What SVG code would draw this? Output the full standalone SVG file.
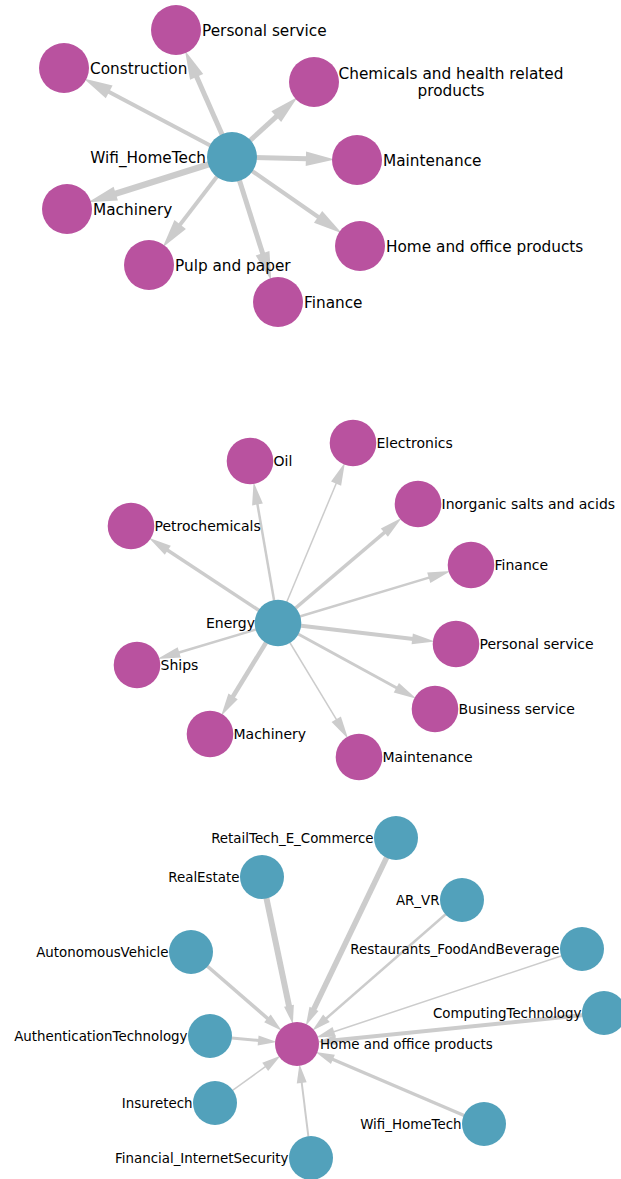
<svg xmlns="http://www.w3.org/2000/svg" width="621" height="1179" viewBox="0 0 621 1179">
<style>
.e{stroke:#cccccc;fill:none;stroke-linecap:butt}
.t1{marker-end:url(#h1)}
.t2{marker-end:url(#h2)}
.t3{marker-end:url(#h3)}
.m{fill:#b9529f}
.c{fill:#52a1bb}
text{font-family:"DejaVu Sans","Liberation Sans",sans-serif;fill:#000}
.f1{font-size:15.3px}
.f2{font-size:14px}
.f3{font-size:13.4px}
.r{text-anchor:end}
</style>
<defs>
<marker id="h1" markerUnits="userSpaceOnUse" markerWidth="30" markerHeight="20" viewBox="-1 -7 27 14" refX="0" refY="0" orient="auto" overflow="visible"><path d="M-1,-6.5 L25,0 L-1,6.5 z" fill="#cccccc"/></marker>
<marker id="h2" markerUnits="userSpaceOnUse" markerWidth="24" markerHeight="14" viewBox="-1 -5 22 10" refX="0" refY="0" orient="auto" overflow="visible"><path d="M-1,-5 L20,0 L-1,5 z" fill="#cccccc"/></marker>
<marker id="h3" markerUnits="userSpaceOnUse" markerWidth="20" markerHeight="12" viewBox="-1 -5 18 10" refX="0" refY="0" orient="auto" overflow="visible"><path d="M-1,-4.5 L16,0 L-1,4.5 z" fill="#cccccc"/></marker>
</defs>

<g id="connectors">
<!-- top -->
<line class="e t1" x1="232" y1="157" x2="196.2" y2="75.8" stroke-width="5"/>
<line class="e t1" x1="232" y1="157" x2="108.2" y2="91.4" stroke-width="4"/>
<line class="e t1" x1="232" y1="157" x2="114.7" y2="194.0" stroke-width="6.5"/>
<line class="e t1" x1="232" y1="157" x2="179.5" y2="225.4" stroke-width="4"/>
<line class="e t1" x1="232" y1="157" x2="262.9" y2="254.3" stroke-width="5"/>
<line class="e t1" x1="232" y1="157" x2="277.1" y2="115.8" stroke-width="5"/>
<line class="e t1" x1="232" y1="157" x2="307.0" y2="158.8" stroke-width="5"/>
<line class="e t1" x1="232" y1="157" x2="319.0" y2="217.5" stroke-width="4"/>
<!-- middle -->
<line class="e t2" x1="278" y1="623" x2="257.3" y2="503.4" stroke-width="2.5"/>
<line class="e t2" x1="278" y1="623" x2="166.9" y2="549.7" stroke-width="3.5"/>
<line class="e t2" x1="278" y1="623" x2="178.2" y2="652.7" stroke-width="2.5"/>
<line class="e t2" x1="278" y1="623" x2="232.5" y2="697.3" stroke-width="4.5"/>
<line class="e t2" x1="278" y1="623" x2="336.5" y2="482.7" stroke-width="1.5"/>
<line class="e t2" x1="278" y1="623" x2="385.2" y2="531.9" stroke-width="3.5"/>
<line class="e t2" x1="278" y1="623" x2="429.8" y2="577.4" stroke-width="2.5"/>
<line class="e t2" x1="278" y1="623" x2="413.3" y2="639.0" stroke-width="4"/>
<line class="e t2" x1="278" y1="623" x2="397.3" y2="688.3" stroke-width="3"/>
<line class="e t2" x1="278" y1="623" x2="336.8" y2="720.2" stroke-width="1.5"/>
<!-- bottom -->
<line class="e t3" x1="262" y1="877" x2="289.2" y2="1006.8" stroke-width="6"/>
<line class="e t3" x1="396" y1="838" x2="313.5" y2="1009.8" stroke-width="5.5"/>
<line class="e t3" x1="191" y1="952" x2="268.3" y2="1019.1" stroke-width="3.5"/>
<line class="e t3" x1="210" y1="1036" x2="259.2" y2="1040.5" stroke-width="3"/>
<line class="e t3" x1="215" y1="1103" x2="266.1" y2="1066.2" stroke-width="1.5"/>
<line class="e t3" x1="311" y1="1158" x2="301.6" y2="1081.7" stroke-width="2"/>
<line class="e t3" x1="462" y1="900" x2="325.6" y2="1019.0" stroke-width="2.5"/>
<line class="e t3" x1="582" y1="949" x2="333.1" y2="1032.0" stroke-width="1.5"/>
<line class="e t3" x1="604" y1="1013" x2="334.8" y2="1040.2" stroke-width="4"/>
<line class="e t3" x1="484" y1="1124" x2="331.9" y2="1059.0" stroke-width="3.5"/>
</g>

<!-- top graph nodes -->
<g id="n-wifi-top"><circle class="c" cx="232" cy="157" r="25"/><text class="f1 r" x="206" y="162.5">Wifi_HomeTech</text></g>
<g id="n-personal-top"><circle class="m" cx="176" cy="30" r="25"/><text class="f1" x="202" y="35.5">Personal service</text></g>
<g id="n-construction"><circle class="m" cx="64" cy="68" r="25"/><text class="f1" x="90" y="73.5">Construction</text></g>
<g id="n-machinery-top"><circle class="m" cx="67" cy="209" r="25"/><text class="f1" x="93" y="214.5">Machinery</text></g>
<g id="n-pulp"><circle class="m" cx="149" cy="265" r="25"/><text class="f1" x="175" y="270.5">Pulp and paper</text></g>
<g id="n-finance-top"><circle class="m" cx="278" cy="302" r="25"/><text class="f1" x="304" y="307.5">Finance</text></g>
<g id="n-chemicals"><circle class="m" cx="314" cy="82" r="25"/><text class="f1" text-anchor="middle" x="451" y="78.8">Chemicals and health related</text><text class="f1" text-anchor="middle" x="451" y="96.3">products</text></g>
<g id="n-maintenance-top"><circle class="m" cx="357" cy="160" r="25"/><text class="f1" x="383" y="165.5">Maintenance</text></g>
<g id="n-home-top"><circle class="m" cx="360" cy="246" r="25"/><text class="f1" x="386" y="251.5">Home and office products</text></g>

<!-- middle graph nodes -->
<g id="n-energy"><circle class="c" cx="278" cy="623" r="23.3"/><text class="f2 r" x="255" y="628.1">Energy</text></g>
<g id="n-oil"><circle class="m" cx="250" cy="461" r="23.3"/><text class="f2" x="273.5" y="466.1">Oil</text></g>
<g id="n-petro"><circle class="m" cx="131" cy="526" r="23.3"/><text class="f2" x="154.5" y="531.1">Petrochemicals</text></g>
<g id="n-ships"><circle class="m" cx="137" cy="665" r="23.3"/><text class="f2" x="160.5" y="670.1">Ships</text></g>
<g id="n-machinery-mid"><circle class="m" cx="210" cy="734" r="23.3"/><text class="f2" x="233.5" y="739.1">Machinery</text></g>
<g id="n-electronics"><circle class="m" cx="353" cy="443" r="23.3"/><text class="f2" x="376.5" y="448.1">Electronics</text></g>
<g id="n-inorganic"><circle class="m" cx="418" cy="504" r="23.3"/><text class="f2" x="441.5" y="509.1">Inorganic salts and acids</text></g>
<g id="n-finance-mid"><circle class="m" cx="471" cy="565" r="23.3"/><text class="f2" x="494.5" y="570.1">Finance</text></g>
<g id="n-personal-mid"><circle class="m" cx="456" cy="644" r="23.3"/><text class="f2" x="479.5" y="649.1">Personal service</text></g>
<g id="n-business"><circle class="m" cx="435" cy="709" r="23.3"/><text class="f2" x="458.5" y="714.1">Business service</text></g>
<g id="n-maintenance-mid"><circle class="m" cx="359" cy="757" r="23.3"/><text class="f2" x="382.5" y="762.1">Maintenance</text></g>

<!-- bottom graph nodes -->
<g id="n-home-bottom"><circle class="m" cx="297" cy="1044" r="22"/><text class="f3" x="320" y="1048.8">Home and office products</text></g>
<g id="n-realestate"><circle class="c" cx="262" cy="877" r="22"/><text class="f3 r" x="239.5" y="881.8">RealEstate</text></g>
<g id="n-retailtech"><circle class="c" cx="396" cy="838" r="22"/><text class="f3 r" x="373.5" y="842.8">RetailTech_E_Commerce</text></g>
<g id="n-autonomous"><circle class="c" cx="191" cy="952" r="22"/><text class="f3 r" x="168.5" y="956.8">AutonomousVehicle</text></g>
<g id="n-authentication"><circle class="c" cx="210" cy="1036" r="22"/><text class="f3 r" x="187.5" y="1040.8">AuthenticationTechnology</text></g>
<g id="n-insuretech"><circle class="c" cx="215" cy="1103" r="22"/><text class="f3 r" x="192.5" y="1107.8">Insuretech</text></g>
<g id="n-financial"><circle class="c" cx="311" cy="1158" r="22"/><text class="f3 r" x="288.5" y="1162.8">Financial_InternetSecurity</text></g>
<g id="n-arvr"><circle class="c" cx="462" cy="900" r="22"/><text class="f3 r" x="439.5" y="904.8">AR_VR</text></g>
<g id="n-restaurants"><circle class="c" cx="582" cy="949" r="22"/><text class="f3 r" x="559.5" y="953.8">Restaurants_FoodAndBeverage</text></g>
<g id="n-computing"><circle class="c" cx="604" cy="1013" r="22"/><text class="f3 r" x="581.5" y="1017.8">ComputingTechnology</text></g>
<g id="n-wifi-bottom"><circle class="c" cx="484" cy="1124" r="22"/><text class="f3 r" x="461.5" y="1128.8">Wifi_HomeTech</text></g>
</svg>
